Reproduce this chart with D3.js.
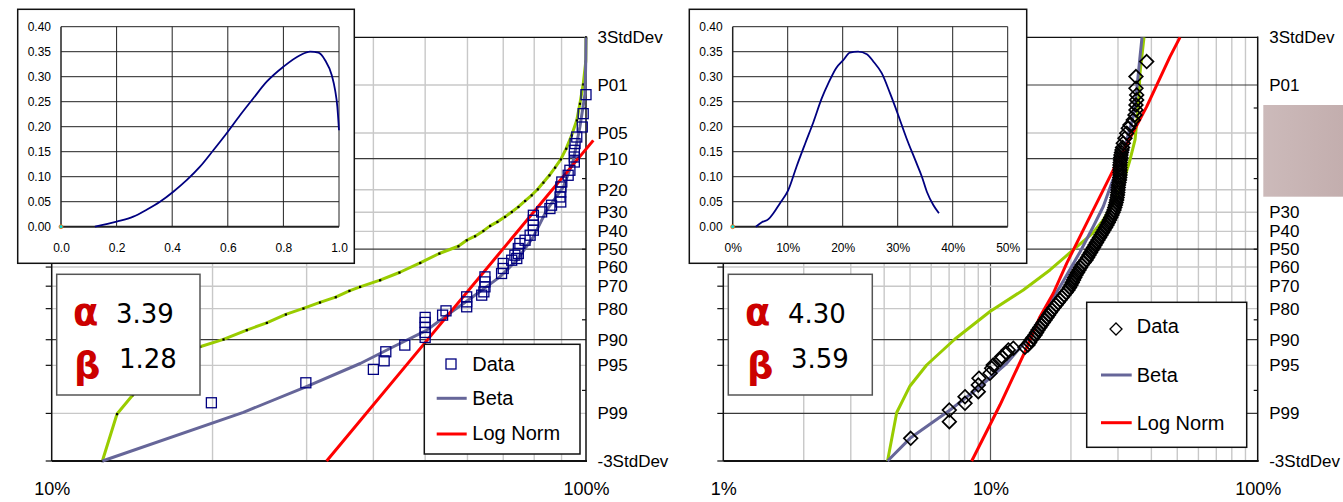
<!DOCTYPE html>
<html><head><meta charset="utf-8">
<script src="https://cdn.jsdelivr.net/npm/d3@7"></script>
<style>body{margin:0;background:#fff}svg{display:block}</style>
</head><body>
<svg id="c" width="1343" height="502"></svg>
<script>
// ---------- tick labels ----------
const pLabels = ["3StdDev","P01","P05","P10","P20","P30","P40","P50","P60","P70","P80","P90","P95","P99","-3StdDev"];
const pLabelZ = [3,2.326,1.645,1.282,0.842,0.524,0.253,0,-0.253,-0.524,-0.842,-1.282,-1.645,-2.326,-3];
const stdDevTickZ = [-2,-1,0,1,2];
const leftXTicks = [10,100];
const rightXTicks = [1,10,100];
const leftInsetXTicks = [0,0.2,0.4,0.6,0.8,1.0];
const rightInsetXTicks = [0,0.1,0.2,0.3,0.4,0.5];
const insetYTicks = [0,0.05,0.1,0.15,0.2,0.25,0.3,0.35,0.4];
const legendLabels = ["Data","Beta","Log Norm"];

// ---------- left panel data (value %, z) ----------
const leftData = [[19.9,-2.175],[29.9,-1.892],[40.0,-1.702],[41.9,-1.581],[42.2,-1.453],[45.8,-1.358],[50.0,-1.249],[50.0,-1.179],[50.0,-1.108],[50.0,-1.037],[50.0,-0.966],[53.9,-0.934],[54.7,-0.873],[59.8,-0.816],[59.8,-0.746],[59.8,-0.675],[63.8,-0.651],[64.4,-0.604],[64.7,-0.533],[64.7,-0.463],[64.7,-0.392],[69.5,-0.344],[70.0,-0.273],[70.0,-0.202],[72.6,-0.156],[74.2,-0.132],[73.6,-0.085],[74.7,-0.061],[74.7,0.010],[75.2,0.081],[76.9,0.127],[78.6,0.198],[79.7,0.269],[79.7,0.340],[79.7,0.410],[79.7,0.481],[82.6,0.528],[85.6,0.576],[86.2,0.623],[89.7,0.669],[89.4,0.740],[89.7,0.811],[89.7,0.882],[90.1,0.952],[92.6,1.047],[93.3,1.118],[95.1,1.235],[95.1,1.306],[95.1,1.401],[95.4,1.496],[96.1,1.589],[98.4,1.731],[98.8,1.920],[100,2.189]];
const leftGreen = [[12.44,-3],[13.25,-2.335],[14.18,-2.066],[15.95,-1.712],[17.77,-1.514],[18.95,-1.382],[20.96,-1.278],[23.17,-1.146],[25.26,-1.043],[27.42,-0.924],[29.58,-0.839],[31.77,-0.754],[34.0,-0.679],[36.06,-0.59],[37.76,-0.533],[41.17,-0.439],[44.74,-0.33],[48.93,-0.194],[53.13,-0.061],[57.68,0.042],[59.8,0.127],[61.98,0.184],[64.24,0.259],[66.13,0.33],[68.24,0.387],[70.53,0.458],[72.6,0.528],[74.7,0.599],[76.9,0.684],[79.1,0.764],[81.2,0.849],[83.2,0.944],[85.4,1.047],[87.5,1.156],[89.7,1.273],[91.8,1.424],[94.0,1.613],[96.1,1.825],[97.4,2.061],[98.8,2.335],[99.9,2.66],[100,3]];
const leftBeta = [[12.44,-3],[22.84,-2.311],[29.9,-1.949],[37.8,-1.619],[43.6,-1.382],[50.3,-1.149],[54.9,-0.937],[60.7,-0.701],[69.0,-0.392],[74.2,-0.156],[79.7,0.174],[84.4,0.552],[90.7,0.882],[94.7,1.259],[97.4,1.731],[99.6,2.203],[99.9,2.679],[100,3]];
const leftLogNorm = [[32.7,-3],[50.3,-1.298],[70.0,0.008],[103.2,1.542]];
const leftParams = ["3.39","1.28"];

// ---------- right panel data (value %, z) ----------
const rightData = [[5.027,-2.679],[7.013,-2.443],[7.013,-2.278],[8.028,-2.183],[8.028,-2.089],[9.001,-2.018],[9.001,-1.923],[9.056,-1.828],[9.957,-1.757],[10.10,-1.686],[10.24,-1.640],[10.85,-1.569],[11.01,-1.522],[11.50,-1.474],[11.66,-1.427],[12.17,-1.403],[13.46,-1.39],
[13.81,-1.357],[14.00,-1.321],[14.18,-1.286],[14.43,-1.250],[14.68,-1.215],[14.87,-1.180],[15.06,-1.144],[15.29,-1.109],[15.52,-1.073],[15.76,-1.038],[16.00,-1.002],[16.25,-0.967],[16.49,-0.932],[16.74,-0.896],[16.99,-0.861],[17.29,-0.825],[17.59,-0.790],[17.90,-0.755],[18.20,-0.719],[18.52,-0.684],[18.84,-0.648],[19.17,-0.613],[19.50,-0.577],[19.76,-0.542],[20.01,-0.507],[20.23,-0.471],[20.45,-0.436],[20.67,-0.400],[20.89,-0.365],[21.17,-0.329],[21.44,-0.294],[21.72,-0.259],[22.00,-0.223],[22.39,-0.188],[22.78,-0.152],[23.08,-0.117],[23.37,-0.081],[23.68,-0.046],[23.98,-0.011],[24.30,0.025],[24.61,0.060],[24.93,0.096],[25.25,0.131],[25.59,0.166],[25.92,0.202],[26.26,0.237],[26.60,0.273],[26.95,0.308],[27.29,0.344],[27.59,0.379],[27.89,0.414],[28.19,0.450],[28.49,0.485],[28.74,0.521],[28.99,0.556],[29.18,0.592],[29.36,0.627],[29.52,0.662],[29.67,0.698],[29.77,0.733],[29.87,0.769],[29.94,0.804],[30.00,0.839],[30.07,0.875],[30.13,0.910],[30.26,0.946],[30.39,0.981],[30.46,1.017],[30.52,1.052],[30.52,1.087],[30.52,1.123],[30.52,1.158],[30.52,1.194],[30.59,1.229],[30.65,1.264],[30.72,1.300],[30.78,1.335],[30.92,1.371],[31.05,1.406],[31.20,1.442],
[31.40,1.501],[31.86,1.572],[32.33,1.643],[32.78,1.714],[33.26,1.760],[34.22,1.831],[34.73,1.902],[35.03,1.973],[35.03,2.044],[35.24,2.115],[35.24,2.185],[35.03,2.280],[35.03,2.445],[38.42,2.657]];
const rightGreen = [[4.118,-3],[4.457,-2.313],[4.997,-1.937],[5.769,-1.64],[7.365,-1.272],[9.957,-0.882],[13.27,-0.577],[16.70,-0.294],[20.18,-0.025],[23.98,0.216],[26.43,0.414],[28.81,0.655],[31.41,0.952],[33.27,1.264],[34.74,1.547],[35.74,2.015],[36.27,2.497],[37.54,3]];
const rightBeta = [[4.118,-3],[4.997,-2.679],[7.055,-2.277],[9.134,-1.947],[11.50,-1.616],[13.66,-1.286],[15.76,-0.909],[18.20,-0.531],[21.63,-0.039],[24.25,0.322],[26.43,0.605],[28.42,0.937],[30.08,1.17],[32.34,1.548],[34.22,1.878],[35.26,2.257],[36.27,2.728],[36.90,3]];
const rightLogNorm = [[8.505,-3],[10.85,-2.207],[13.46,-1.452],[15.32,-0.956],[17.18,-0.624],[19.28,-0.2],[22.25,0.273],[28.81,1.123],[38.42,2.019],[46.97,2.728],[51.19,3]];
const rightParams = ["4.30","3.59"];

// ---------- inset density curves ----------
const leftPdfX = [0.122,0.2,0.26,0.308,0.356,0.404,0.452,0.5,0.548,0.596,0.644,0.692,0.74,0.8,0.86,0.896,0.926,0.95,0.974,0.986,0.994,1.0];
const leftPdfY = [0,0.01,0.02,0.034,0.05,0.07,0.093,0.12,0.153,0.187,0.223,0.257,0.29,0.32,0.343,0.35,0.348,0.333,0.303,0.273,0.24,0.193];
const rightPdfX = [0.042,0.053,0.065,0.074,0.086,0.101,0.116,0.132,0.147,0.162,0.174,0.188,0.201,0.213,0.228,0.244,0.256,0.271,0.286,0.301,0.316,0.332,0.344,0.353,0.365,0.375];
const rightPdfY = [0,0.009,0.015,0.027,0.047,0.073,0.12,0.167,0.21,0.257,0.287,0.317,0.333,0.348,0.35,0.345,0.33,0.307,0.267,0.223,0.177,0.133,0.1,0.07,0.043,0.027];

const svg = d3.select("#c");
const SANS = "'Liberation Sans', Arial, sans-serif";
const VERD = "'DejaVu Sans', Verdana, sans-serif";
const LIGHT = "#c8c8c8", DARK = "#3a3a3a";
const GREEN = "#99cc00", BETA = "#666699", RED = "#ff0000";

function panel(cfg){
  const g = svg.append("g");
  const x = d3.scaleLog().domain(cfg.xDomain).range(cfg.xRange);
  const y = d3.scaleLinear().domain([-3,3]).range([461,37.4]);
  const [x0,x1] = cfg.xRange;
  g.selectAll(".vmin").data(cfg.xMinor).join("line")
    .attr("x1",d=>x(d)).attr("x2",d=>x(d)).attr("y1",y(3)).attr("y2",y(-3))
    .attr("stroke",LIGHT).attr("stroke-width",1.4);
  g.selectAll(".vmaj").data(cfg.xMajor).join("line")
    .attr("x1",d=>x(d)).attr("x2",d=>x(d)).attr("y1",y(3)).attr("y2",y(-3))
    .attr("stroke","#555").attr("stroke-width",1.2);
  const hz = pLabelZ.filter(z=>Math.abs(z)<3);
  g.selectAll(".h").data(hz).join("line")
    .attr("x1",x0).attr("x2",x1).attr("y1",d=>y(d)).attr("y2",d=>y(d))
    .attr("stroke",d=>cfg.hMajor.includes(d)?DARK:LIGHT)
    .attr("stroke-width",d=>cfg.hMajor.includes(d)?1.2:1.4);
  g.append("line").attr("x1",x0).attr("x2",x1).attr("y1",y(3)).attr("y2",y(3)).attr("stroke","#111").attr("stroke-width",1.2);
  g.append("line").attr("x1",x0).attr("x2",x1+1).attr("y1",y(-3)).attr("y2",y(-3)).attr("stroke","#111").attr("stroke-width",2);
  g.append("line").attr("x1",x0).attr("x2",x0).attr("y1",y(3)).attr("y2",y(-3)).attr("stroke","#111").attr("stroke-width",1.5);
  g.append("line").attr("x1",x1).attr("x2",x1).attr("y1",y(3)-1).attr("y2",y(-3)).attr("stroke","#111").attr("stroke-width",1.5);
  g.selectAll(".lt").data(pLabelZ).join("line")
    .attr("x1",x0-6).attr("x2",x0).attr("y1",d=>y(d)).attr("y2",d=>y(d)).attr("stroke","#111").attr("stroke-width",1.2);
  g.selectAll(".rt").data(stdDevTickZ).join("line")
    .attr("x1",x1-4).attr("x2",x1).attr("y1",d=>y(d)).attr("y2",d=>y(d)).attr("stroke","#111").attr("stroke-width",1.2);
  const ay = g.append("g").attr("transform",`translate(${x1},0)`)
    .call(d3.axisRight(y).tickValues(pLabelZ).tickSize(0).tickPadding(11.5)
      .tickFormat((d,i)=>pLabels[i]));
  ay.select(".domain").remove();
  ay.selectAll("text").attr("font-family",SANS).attr("font-size",17).attr("fill","#000");
  const ax = g.append("g").attr("transform",`translate(0,${y(-3)})`)
    .call(d3.axisBottom(x).tickValues(cfg.xTicks).tickSize(0).tickFormat(d=>d+"%"));
  ax.select(".domain").remove();
  ax.selectAll("text").attr("font-family",SANS).attr("font-size",18).attr("fill","#000")
    .attr("y",34).attr("dy",0);
  const line = d3.line().x(d=>x(d[0])).y(d=>y(d[1]));
  g.append("path").datum(cfg.green).attr("d",line).attr("fill","none").attr("stroke",GREEN).attr("stroke-width",3).attr("stroke-linejoin","round");
  if(cfg.greenDots){
    g.selectAll(".gd").data(cfg.green).join("rect")
      .attr("x",d=>x(d[0])-1).attr("y",d=>y(d[1])-1).attr("width",2.2).attr("height",2.2).attr("fill","#000");
  }
  g.append("path").datum(cfg.beta).attr("d",line).attr("fill","none").attr("stroke",BETA).attr("stroke-width",3).attr("stroke-linejoin","round");
  g.append("path").datum(cfg.logn).attr("d",line).attr("fill","none").attr("stroke",RED).attr("stroke-width",3).attr("stroke-linejoin","round");
  if(cfg.marker==="square"){
    g.selectAll(".dm").data(cfg.data).join("rect")
      .attr("x",d=>x(d[0])-5).attr("y",d=>y(d[1])-5).attr("width",10).attr("height",10)
      .attr("fill","none").attr("stroke","#000080").attr("stroke-width",1.3);
  } else {
    g.selectAll(".dm").data(cfg.data).join("path")
      .attr("d",d=>{const cx=x(d[0]),cy=y(d[1]),r=6.8;return `M${cx},${cy-r}L${cx+r},${cy}L${cx},${cy+r}L${cx-r},${cy}Z`;})
      .attr("fill","none").attr("stroke","#000").attr("stroke-width",1.7);
  }
  return g;
}

function inset(cfg){
  const g = svg.append("g");
  g.append("rect").attr("x",cfg.box[0]).attr("y",cfg.box[1]).attr("width",cfg.box[2]).attr("height",cfg.box[3])
    .attr("fill","#fff").attr("stroke","#111").attr("stroke-width",1.5);
  const x = d3.scaleLinear().domain(cfg.xDomain).range(cfg.xRange);
  const y = d3.scaleLinear().domain([0,0.4]).range([226.7,26.7]);
  g.selectAll(".hg").data(insetYTicks).join("line")
    .attr("x1",cfg.xRange[0]).attr("x2",cfg.xRange[1]).attr("y1",d=>y(d)).attr("y2",d=>y(d))
    .attr("stroke","#222").attr("stroke-width",d=>d===0?2:1);
  g.selectAll(".vg").data(cfg.xTicks).join("line")
    .attr("x1",d=>x(d)).attr("x2",d=>x(d)).attr("y1",y(0)).attr("y2",y(0.4))
    .attr("stroke","#222").attr("stroke-width",d=>d===0?1.5:1);
  const ax = g.append("g").attr("transform",`translate(0,${y(0)})`)
    .call(d3.axisBottom(x).tickValues(cfg.xTicks).tickSize(0).tickFormat(cfg.xFmt));
  ax.select(".domain").remove();
  ax.selectAll("text").attr("font-family",SANS).attr("font-size",12).attr("fill","#000").attr("y",25).attr("dy",0);
  const ay = g.append("g").attr("transform",`translate(${cfg.xRange[0]},0)`)
    .call(d3.axisLeft(y).tickValues(insetYTicks).tickSize(0).tickPadding(10).tickFormat(d3.format(".2f")));
  ay.select(".domain").remove();
  ay.selectAll("text").attr("font-family",SANS).attr("font-size",12).attr("fill","#000");
  const pts = cfg.px.map((v,i)=>[v,cfg.py[i]]);
  g.append("path").datum(pts).attr("d",d3.line().x(d=>x(d[0])).y(d=>y(d[1])).curve(d3.curveMonotoneX))
    .attr("fill","none").attr("stroke","#000080").attr("stroke-width",1.8);
  g.append("circle").attr("cx",x(0)).attr("cy",y(0)).attr("r",2).attr("fill","#00e0e0").attr("stroke","#ff6600").attr("stroke-width",0.8);
}

function params(b, vals, a, bb){
  const g = svg.append("g");
  g.append("rect").attr("x",b[0]).attr("y",b[1]).attr("width",b[2]).attr("height",b[3])
    .attr("fill","#fff").attr("stroke","#555").attr("stroke-width",1.5);
  g.append("text").attr("x",a[0]).attr("y",a[1]).text("α").attr("font-family",VERD).attr("font-weight","bold").attr("font-size",37).attr("fill","#cc0000");
  g.append("text").attr("x",bb[0]).attr("y",bb[1]).text("β").attr("font-family",VERD).attr("font-weight","bold").attr("font-size",37).attr("fill","#cc0000");
  g.append("text").attr("x",a[2]).attr("y",a[3]).text(vals[0]).attr("font-family",VERD).attr("font-size",26).attr("fill","#000");
  g.append("text").attr("x",bb[2]).attr("y",bb[3]).text(vals[1]).attr("font-family",VERD).attr("font-size",26).attr("fill","#000");
}

function legend(cfg){
  const g = svg.append("g");
  const b = cfg.box;
  g.append("rect").attr("x",b[0]).attr("y",b[1]).attr("width",b[2]).attr("height",b[3]).attr("fill","#fff").attr("stroke","#111").attr("stroke-width",1.5);
  const [mx,my] = cfg.marker;
  if(cfg.type==="square"){
    g.append("rect").attr("x",mx-5).attr("y",my-5).attr("width",10).attr("height",10).attr("fill","none").attr("stroke","#000080").attr("stroke-width",1.3);
  } else {
    const r=6;
    g.append("path").attr("d",`M${mx},${my-r}L${mx+r},${my}L${mx},${my+r}L${mx-r},${my}Z`).attr("fill","none").attr("stroke","#000").attr("stroke-width",1.3);
  }
  g.append("line").attr("x1",cfg.lineX[0]).attr("x2",cfg.lineX[1]).attr("y1",cfg.betaY).attr("y2",cfg.betaY).attr("stroke",BETA).attr("stroke-width",3);
  g.append("line").attr("x1",cfg.lineX[0]).attr("x2",cfg.lineX[1]).attr("y1",cfg.lnY).attr("y2",cfg.lnY).attr("stroke",RED).attr("stroke-width",3);
  legendLabels.forEach((t,i)=>{
    g.append("text").attr("x",cfg.textX).attr("y",cfg.textY[i]).text(t).attr("font-family",SANS).attr("font-size",20).attr("fill","#000");
  });
}

panel({xDomain:[10,100],xRange:[51.7,586],xMinor:[20,30,40,50,60,70,80,90],xMajor:[],hMajor:[1.282,0,-1.282],
  xTicks:leftXTicks,green:leftGreen,greenDots:true,beta:leftBeta,logn:leftLogNorm,data:leftData,marker:"square"});
panel({xDomain:[1,100],xRange:[723.3,1257.7],xMinor:[2,3,4,5,6,7,8,9,20,30,40,50,60,70,80,90],xMajor:[10],hMajor:[2.326,1.282,0,-1.282,-2.326],
  xTicks:rightXTicks,green:rightGreen,greenDots:false,beta:rightBeta,logn:rightLogNorm,data:rightData,marker:"diamond"});

inset({box:[17.7,9.3,336.6,254],xDomain:[0,1],xRange:[61,339],xTicks:leftInsetXTicks,xFmt:d3.format(".1f"),px:leftPdfX,py:leftPdfY});
inset({box:[689.3,9.3,337.4,254],xDomain:[0,0.5],xRange:[732.7,1007.7],xTicks:rightInsetXTicks,xFmt:d3.format(".0%"),px:rightPdfX,py:rightPdfY});

params([56.7,274.3,143.3,120.7],leftParams,[73,325,116,323.3],[74,378,119,368.3]);
params([728.3,274.3,144,120.7],rightParams,[745,325,788,323.3],[747,378,791,368.3]);

legend({box:[424.3,344.3,155.7,109.7],type:"square",marker:[451,364],lineX:[436.7,466.7],betaY:398.3,lnY:434,textX:472.3,textY:[370.5,405,440]});
legend({box:[1086.7,302.3,160,145],type:"diamond",marker:[1116,329],lineX:[1101,1131.7],betaY:375,lnY:422.7,textX:1136.7,textY:[333.3,381.7,430]});

const grad = svg.append("defs").append("linearGradient").attr("id","rose");
grad.append("stop").attr("offset","0").attr("stop-color","#ccbaba");
grad.append("stop").attr("offset","1").attr("stop-color","#c3aeae");
svg.append("rect").attr("x",1263.3).attr("y",105).attr("width",80).attr("height",91.7).attr("fill","url(#rose)");
</script>
</body></html>
